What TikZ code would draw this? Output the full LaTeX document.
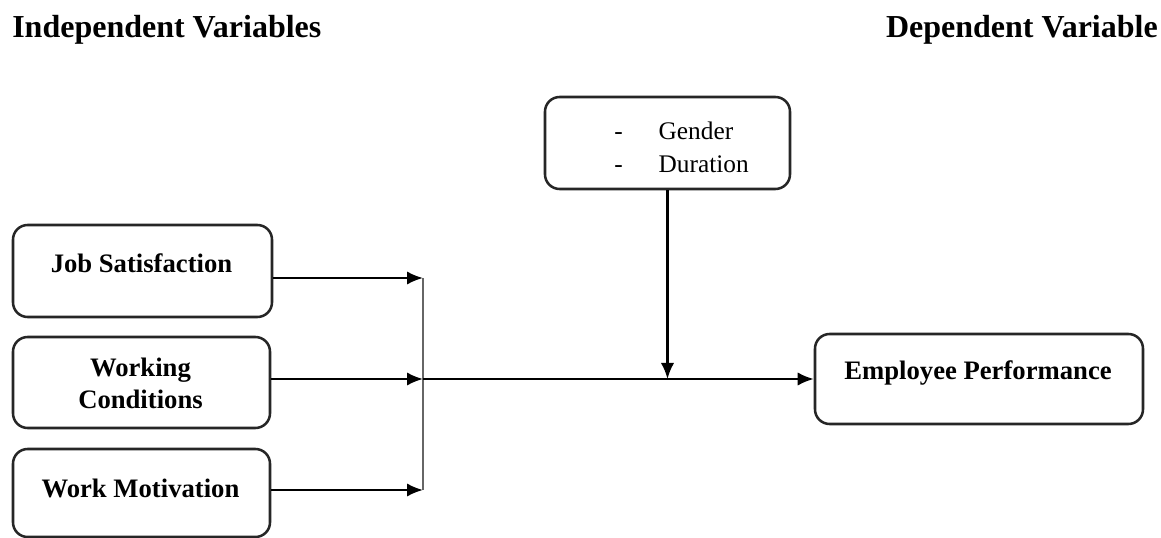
\documentclass[tikz,border=0pt]{standalone}
\usepackage{fontspec}
\setmainfont{Liberation Serif}
\usetikzlibrary{arrows.meta}
\begin{document}
\begin{tikzpicture}[x=0.75pt,y=-0.75pt,
  box/.style={draw=black!85, line width=1.9pt, rounded corners=11pt, inner sep=0pt},
  heading/.style={font=\fontsize{24pt}{28pt}\selectfont\bfseries, inner sep=0pt},
  boxtext/.style={font=\fontsize{20pt}{23.25pt}\selectfont\bfseries, inner sep=0pt, align=center},
  arr/.style={line width=1.7pt, -{Latex[length=12pt,width=10pt]}},
  bus/.style={line width=1.3pt, black!60}]
\useasboundingbox (0,0) rectangle (1161,538);

% column headings
\node[heading, anchor=base west] (hind) at (12,38) {Independent Variables};
\node[heading, anchor=base east] (hdep) at (1158,38) {Dependent Variable};

% boxes
\node[box, minimum width=194.25pt, minimum height=69pt] (js) at (142.5,271) {};
\node[box, minimum width=192.75pt, minimum height=68.25pt] (wc) at (141.5,382.5) {};
\node[box, minimum width=192.75pt, minimum height=66pt] (wm) at (141.5,493) {};
\node[box, minimum width=183.75pt, minimum height=69pt] (gd) at (667.5,143) {};
\node[box, minimum width=246pt, minimum height=67.5pt] (ep) at (979,379) {};

% box labels
\node[boxtext, anchor=base] (jst) at (141.5,273) {Job Satisfaction};
\node[boxtext, anchor=base] (wct1) at (140.5,377) {Working};
\node[boxtext, anchor=base] (wct2) at (140.5,408) {Conditions};
\node[boxtext, anchor=base] (wmt) at (140.5,497) {Work Motivation};
\node[boxtext, anchor=base] (ept) at (978,380) {Employee Performance};
\node[anchor=base west, inner sep=0pt, font=\fontsize{19pt}{24.75pt}\selectfont] (gdt) at (614,140)
  {\renewcommand{\arraystretch}{1}\begin{tabular}[t]{@{}l@{\hspace{27pt}}l@{}}- & Gender\\ - & Duration\end{tabular}};

% junction points on the collecting line
\coordinate (j1) at (423,278);
\coordinate (j2) at (423,379);
\coordinate (j3) at (423,490);

% connectors
\draw[bus] (j1) -- (j3);
\draw[arr] (js.east |- j1) -- (j1);
\draw[arr] (wc.east |- j2) -- (j2);
\draw[arr] (wm.east |- j3) -- (j3);
\draw[arr] (j2) -- (ep.west);
\draw[arr] (gd.south) -- (gd.south |- j2);
\end{tikzpicture}
\end{document}
